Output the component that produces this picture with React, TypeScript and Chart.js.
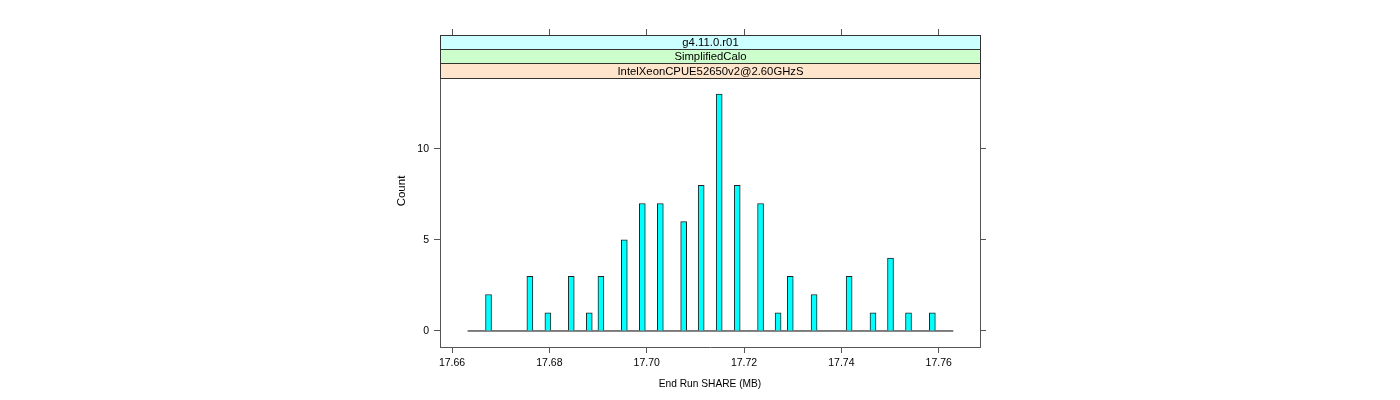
import React, { useEffect, useRef } from "react";
import { Chart, registerables } from "chart.js";

Chart.register(...registerables);

// ---- data ----
const binCenters = [
  17.6675, 17.676, 17.6797, 17.6845, 17.6882, 17.6906, 17.6954, 17.6991, 17.7028, 17.7076, 17.7112,
  17.7149, 17.7186, 17.7234, 17.727, 17.7295, 17.7344, 17.7416, 17.7465, 17.7501, 17.7538, 17.7587,
];
const counts = [2, 3, 1, 3, 1, 3, 5, 7, 7, 6, 8, 13, 8, 7, 1, 3, 2, 3, 1, 4, 1, 1];
const baselineRange = [17.6632, 17.763];
const xTicks = [17.66, 17.68, 17.7, 17.72, 17.74, 17.76];
const yTicks = [0, 5, 10];
const stripLabels = ["g4.11.0.r01", "SimplifiedCalo", "IntelXeonCPUE52650v2@2.60GHzS"];
const stripColors = ["#ccffff", "#ccffcc", "#ffe5cc"];
const xLabel = "End Run SHARE (MB)";
const yLabel = "Count";
const xMin = 17.65753;
const xMax = 17.76849;
const yMin = -0.88;
const yMax = 16.25;
const panelTopValue = 13.91;

const FONT = "'Liberation Sans', Arial, Helvetica, sans-serif";
const AXIS_COLOR = "#555555";

const stripPlugin = {
  id: "strips",
  afterDatasetsDraw(chart: any) {
    const { ctx, chartArea, scales } = chart;
    const top = chartArea.top;
    const bottom = scales.y.getPixelForValue(panelTopValue);
    const h = (bottom - top) / stripLabels.length;
    ctx.save();
    for (let i = 0; i < stripLabels.length; i++) {
      const y0 = Math.round(top + i * h) + 0.5;
      const y1 = Math.round(top + (i + 1) * h) + 0.5;
      const x0 = Math.round(chartArea.left) + 0.5;
      const x1 = Math.round(chartArea.right) + 0.5;
      ctx.fillStyle = stripColors[i];
      ctx.fillRect(x0, y0, x1 - x0, y1 - y0);
      ctx.strokeStyle = "#333333";
      ctx.lineWidth = 1;
      ctx.strokeRect(x0, y0, x1 - x0, y1 - y0);
      ctx.fillStyle = "#000000";
      ctx.font = `11.3px ${FONT}`;
      ctx.textAlign = "center";
      ctx.textBaseline = "middle";
      ctx.fillText(stripLabels[i], (x0 + x1) / 2, (y0 + y1) / 2 + 0.5);
    }
    ctx.restore();
  },
};

export default function App() {
  const ref = useRef<HTMLCanvasElement | null>(null);

  useEffect(() => {
    if (!ref.current) return;
    const tickFont = { family: FONT, size: 10.5 };
    const chart = new Chart(ref.current, {
      type: "bar",
      data: {
        datasets: [
          {
            type: "bar",
            data: binCenters.map((x, i) => ({ x, y: counts[i] })),
            backgroundColor: "#00ffff",
            borderColor: "#222222",
            borderWidth: 1,
            barThickness: 6,
            order: 0,
          } as any,
          {
            type: "line",
            data: baselineRange.map((x) => ({ x, y: 0 })),
            borderColor: "#000000",
            borderWidth: 1,
            pointRadius: 0,
            order: 1,
          } as any,
        ],
      },
      options: {
        animation: false,
        responsive: false,
        devicePixelRatio: 1,
        layout: { padding: { left: 390, top: 0, right: 0, bottom: 0 } },
        plugins: { legend: { display: false }, tooltip: { enabled: false } },
        scales: {
          x: {
            type: "linear",
            position: "bottom",
            min: xMin,
            max: xMax,
            offset: false,
            afterBuildTicks: (s: any) => {
              s.ticks = xTicks.map((v) => ({ value: v }));
            },
            afterFit: (s: any) => {
              s.height = 53;
            },
            grid: { drawOnChartArea: false, drawTicks: true, tickLength: 6, color: AXIS_COLOR, offset: false },
            border: { display: true, color: AXIS_COLOR, width: 1 },
            ticks: {
              color: "#000",
              font: tickFont,
              padding: 4,
              maxRotation: 0,
              autoSkip: false,
              callback: (v: any) => Number(v).toFixed(2),
            },
            title: {
              display: true,
              text: xLabel,
              color: "#000",
              font: { family: FONT, size: 10.2 },
              padding: { top: 0, bottom: 10 },
            },
          },
          x2: {
            type: "linear",
            position: "top",
            min: xMin,
            max: xMax,
            offset: false,
            afterBuildTicks: (s: any) => {
              s.ticks = xTicks.map((v) => ({ value: v }));
            },
            afterFit: (s: any) => {
              s.height = 35;
            },
            grid: { drawOnChartArea: false, drawTicks: true, tickLength: 6, color: AXIS_COLOR, offset: false },
            border: { display: true, color: AXIS_COLOR, width: 1 },
            ticks: { display: false },
          },
          y: {
            type: "linear",
            position: "left",
            min: yMin,
            max: yMax,
            afterBuildTicks: (s: any) => {
              s.ticks = yTicks.map((v) => ({ value: v }));
            },
            afterFit: (s: any) => {
              s.width = 50;
            },
            grid: { drawOnChartArea: false, drawTicks: true, tickLength: 6, color: AXIS_COLOR },
            border: { display: true, color: AXIS_COLOR, width: 1 },
            ticks: { color: "#000", font: tickFont, padding: 5, autoSkip: false },
            title: {
              display: true,
              text: yLabel,
              color: "#000",
              font: { family: FONT, size: 11.5 },
              padding: { top: 5, bottom: 0 },
            },
          },
          y2: {
            type: "linear",
            position: "right",
            min: yMin,
            max: yMax,
            afterBuildTicks: (s: any) => {
              s.ticks = yTicks.map((v) => ({ value: v }));
            },
            afterFit: (s: any) => {
              s.width = 420;
            },
            grid: { drawOnChartArea: false, drawTicks: true, tickLength: 6, color: AXIS_COLOR },
            border: { display: true, color: AXIS_COLOR, width: 1 },
            ticks: { display: false },
          },
        },
      } as any,
      plugins: [stripPlugin],
    });
    return () => chart.destroy();
  }, []);

  return (
    <div style={{ position: "absolute", left: 0, top: 0, width: 1400, height: 400, background: "#fff" }}>
      <canvas ref={ref} width={1400} height={400} style={{ width: 1400, height: 400, display: "block" }} />
    </div>
  );
}
